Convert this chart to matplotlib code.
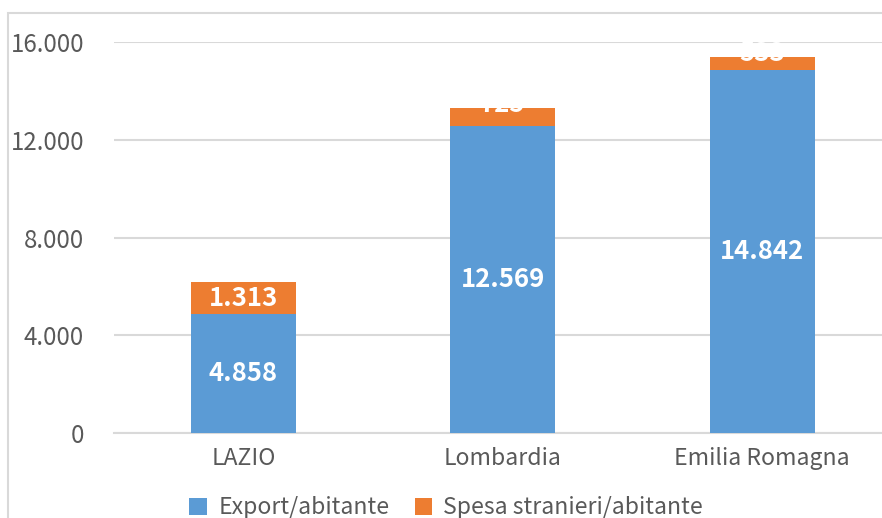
import matplotlib
matplotlib.use("Agg")
import matplotlib.pyplot as plt
from matplotlib.patches import Rectangle
from matplotlib.ticker import FuncFormatter

plt.rcParams['font.family'] = ['Noto Sans CJK SC', 'DejaVu Sans']

categories = ["LAZIO", "Lombardia", "Emilia Romagna"]
export_ab = [4858, 12569, 14842]
spesa_ab = [1313, 725, 533]
series_names = ["Export/abitante", "Spesa stranieri/abitante"]
yticks = [0, 4000, 8000, 12000, 16000]

blue = "#5b9bd5"
orange = "#ed7d31"
grid_c = "#d9d9d9"
txt_c = "#595959"

fig = plt.figure(figsize=(8.82, 5.18), dpi=100)
ax = fig.add_axes([0.129, 0.164, 0.8823, 0.755])

x = list(range(len(categories)))
w = 0.405
b1 = ax.bar(x, export_ab, width=w, color=blue, zorder=3, label=series_names[0])
b2 = ax.bar(x, spesa_ab, width=w, bottom=export_ab, color=orange, zorder=3, label=series_names[1])

fmt = lambda v: f"{int(round(v)):,}".replace(",", ".")
for xi, e, s in zip(x, export_ab, spesa_ab):
    ax.text(xi, e / 2, fmt(e), ha="center", va="center", color="white",
            fontsize=18.5, fontweight="bold", zorder=5)
    if s >= 1000:
        ax.text(xi, e + s / 2, fmt(s), ha="center", va="center", color="white",
                fontsize=18.5, fontweight="bold", zorder=5)
    else:
        ax.annotate(fmt(s), (xi, e + s), xytext=(0, 2.5), textcoords="offset points",
                    ha="center", va="center", color="white",
                    fontsize=18.5, fontweight="bold", zorder=5)

ax.set_xlim(-0.5, 2.5)
ax.set_ylim(0, 16000)
ax.set_yticks(yticks)
ax.yaxis.set_major_formatter(FuncFormatter(lambda v, p: fmt(v)))
ax.set_xticks(x)
ax.set_xticklabels(categories)
ax.grid(axis="y", color=grid_c, linewidth=1.5, zorder=0)
ax.tick_params(axis="y", length=0, pad=21.5, labelsize=17.3, labelcolor=txt_c)
ax.tick_params(axis="x", length=0, pad=10, labelsize=16.6, labelcolor=txt_c)
for sp in ax.spines.values():
    sp.set_visible(False)
ax.spines["bottom"].set_visible(True)
ax.spines["bottom"].set_color(grid_c)
ax.spines["bottom"].set_linewidth(1.5)

leg = fig.legend(handles=[b1, b2], labels=series_names, loc="center",
                 bbox_to_anchor=(0.506, 0.02), ncol=2, frameon=False,
                 fontsize=16.6, handlelength=0.75, handleheight=0.75,
                 columnspacing=1.1, handletextpad=0.5)
for t in leg.get_texts():
    t.set_color(txt_c)

fig.patches.append(Rectangle((0.009, -0.2), 1.2, 1.175, transform=fig.transFigure,
                             fill=False, edgecolor=grid_c, linewidth=1.5))

fig.savefig("out.png", dpi=100)
